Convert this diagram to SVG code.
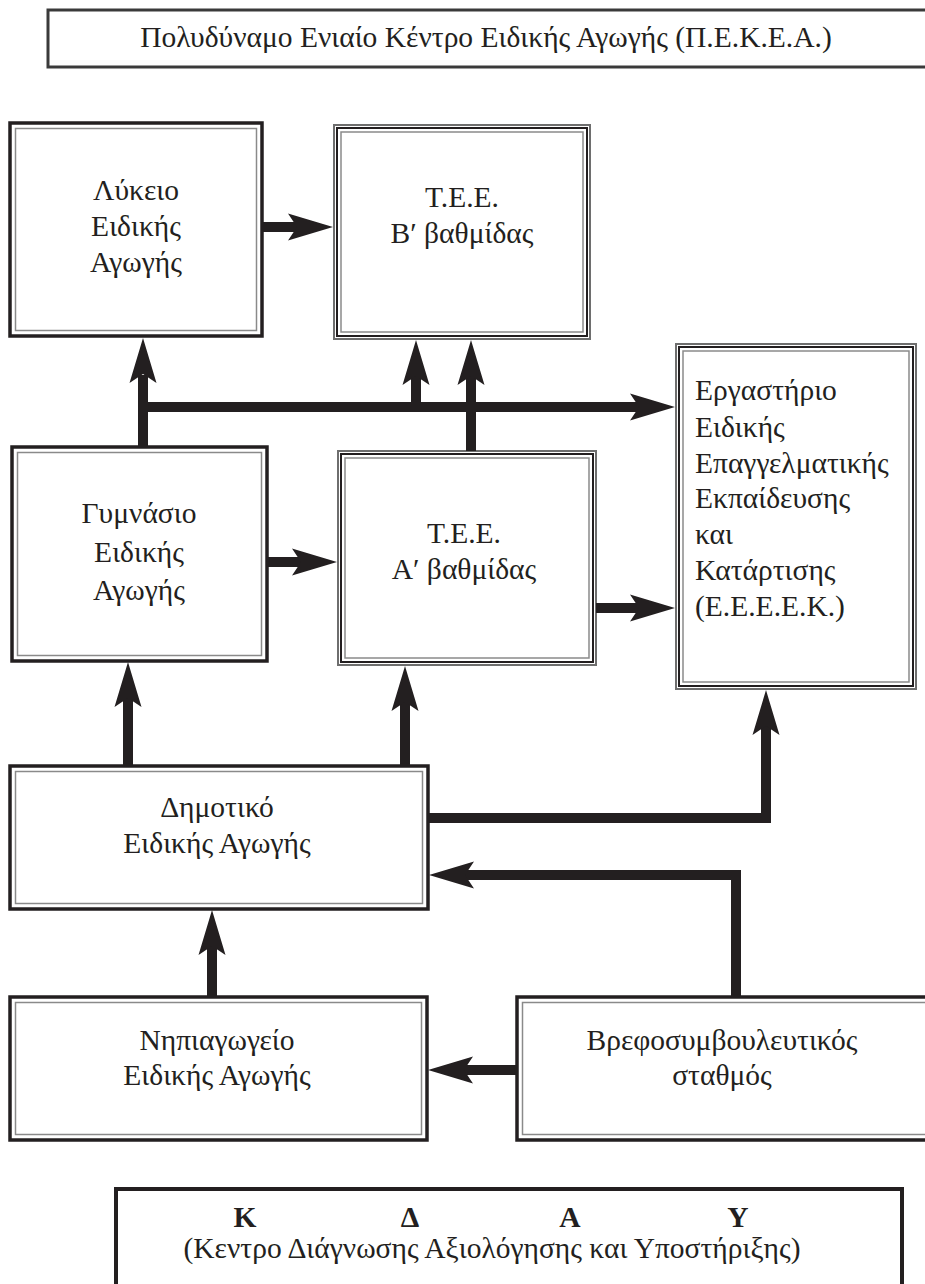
<svg xmlns="http://www.w3.org/2000/svg" xmlns:xlink="http://www.w3.org/1999/xlink" width="925" height="1284" viewBox="0 0 925 1284">
<style>
text{font-family:"Liberation Serif","DejaVu Serif",serif;fill:#231f20;font-size:29.5px}
.c{text-anchor:middle}
.b{font-weight:bold}
.oA{fill:#fff;stroke:#231f20;stroke-width:3.5}
.iA{fill:none;stroke:#8a8a8a;stroke-width:1.5}
.oB{fill:#fff;stroke:#6e6e6e;stroke-width:2}
.mB{fill:none;stroke:#231f20;stroke-width:2}
.iB{fill:none;stroke:#8a8a8a;stroke-width:1.5}
.ln{fill:none;stroke:#231f20;stroke-width:10;stroke-linejoin:miter}
.ah{fill:#231f20}
</style>
<defs>
<path id="ah" d="M0,0 L-45,-13.5 L-36,0 L-45,13.5 Z"/>
</defs>

<g id="pekea">
<rect x="48" y="10" width="930" height="57" fill="#fff" stroke="#3a3a3a" stroke-width="3"/>
<text class="c" x="486" y="47">Πολυδύναμο Ενιαίο Κέντρο Ειδικής Αγωγής (Π.Ε.Κ.Ε.Α.)</text>
</g>

<g id="lykeio">
<rect class="oA" x="10" y="123" width="252" height="213"/>
<rect class="iA" x="15.5" y="128.5" width="241" height="202"/>
<text class="c" x="136" y="200">Λύκειο</text>
<text class="c" x="136" y="236">Ειδικής</text>
<text class="c" x="136" y="272">Αγωγής</text>
</g>

<g id="tee-b">
<rect class="oB" x="334" y="125" width="256" height="214"/>
<rect class="mB" x="337" y="128" width="250" height="208"/>
<rect class="iB" x="341" y="132" width="242" height="200"/>
<text class="c" x="462" y="207">Τ.Ε.Ε.</text>
<text class="c" x="462" y="243">Β′ βαθμίδας</text>
</g>

<g id="eeeek">
<rect class="oB" x="676" y="344" width="240" height="345"/>
<rect class="mB" x="679" y="347" width="234" height="339"/>
<rect class="iB" x="683" y="351" width="226" height="331"/>
<text x="695" y="400">Εργαστήριο</text>
<text x="695" y="437">Ειδικής</text>
<text x="695" y="473">Επαγγελματικής</text>
<text x="695" y="508">Εκπαίδευσης</text>
<text x="695" y="544">και</text>
<text x="695" y="580">Κατάρτισης</text>
<text x="695" y="616">(Ε.Ε.Ε.Ε.Κ.)</text>
</g>

<g id="gymnasio">
<rect class="oA" x="12" y="447" width="255" height="214"/>
<rect class="iA" x="17.5" y="452.5" width="244" height="203"/>
<text class="c" x="139" y="523">Γυμνάσιο</text>
<text class="c" x="139" y="562">Ειδικής</text>
<text class="c" x="139" y="600">Αγωγής</text>
</g>

<g id="tee-a">
<rect class="oB" x="338" y="451" width="258" height="214"/>
<rect class="mB" x="341" y="454" width="252" height="208"/>
<rect class="iB" x="345" y="458" width="244" height="200"/>
<text class="c" x="464" y="543">Τ.Ε.Ε.</text>
<text class="c" x="464" y="579">Α′ βαθμίδας</text>
</g>

<g id="dimotiko">
<rect class="oA" x="10" y="766" width="418" height="143"/>
<rect class="iA" x="15.5" y="771.5" width="407" height="132"/>
<text class="c" x="217" y="817">Δημοτικό</text>
<text class="c" x="217" y="853">Ειδικής Αγωγής</text>
</g>

<g id="nipiagogeio">
<rect class="oA" x="10" y="997" width="417" height="143"/>
<rect class="iA" x="15.5" y="1002.5" width="406" height="132"/>
<text class="c" x="217" y="1050">Νηπιαγωγείο</text>
<text class="c" x="217" y="1085">Ειδικής Αγωγής</text>
</g>

<g id="vrefos">
<rect class="oA" x="517" y="997" width="440" height="143"/>
<rect class="iA" x="522.5" y="1002.5" width="429" height="132"/>
<text class="c" x="722" y="1050">Βρεφοσυμβουλευτικός</text>
<text class="c" x="722" y="1085">σταθμός</text>
</g>

<g id="kday">
<rect x="116" y="1189" width="786" height="120" fill="#fff" stroke="#231f20" stroke-width="4"/>
<text class="c b" x="245" y="1227">Κ</text>
<text class="c b" x="410" y="1227">Δ</text>
<text class="c b" x="570" y="1227">Α</text>
<text class="c b" x="738" y="1227">Υ</text>
<text class="c" x="492" y="1258">(Κεντρο Διάγνωσης Αξιολόγησης και Υποστήριξης)</text>
</g>

<g id="connectors">
<path class="ln" d="M262,227 H300"/>
<use class="ah" xlink:href="#ah" transform="translate(333,227)"/>
<path class="ln" d="M143,447 V375"/>
<use class="ah" xlink:href="#ah" transform="translate(143,338) rotate(-90)"/>
<path class="ln" d="M138,407 H640"/>
<use class="ah" xlink:href="#ah" transform="translate(675,407)"/>
<path class="ln" d="M416,412 V372"/>
<use class="ah" xlink:href="#ah" transform="translate(416,340) rotate(-90)"/>
<path class="ln" d="M471,451 V372"/>
<use class="ah" xlink:href="#ah" transform="translate(471,340) rotate(-90)"/>
<path class="ln" d="M267,562 H304"/>
<use class="ah" xlink:href="#ah" transform="translate(337,562)"/>
<path class="ln" d="M596,608 H640"/>
<use class="ah" xlink:href="#ah" transform="translate(675,608)"/>
<path class="ln" d="M128,766 V697"/>
<use class="ah" xlink:href="#ah" transform="translate(128,662) rotate(-90)"/>
<path class="ln" d="M405,766 V700"/>
<use class="ah" xlink:href="#ah" transform="translate(405,666) rotate(-90)"/>
<path class="ln" d="M428,818 H766 V724"/>
<use class="ah" xlink:href="#ah" transform="translate(766,690) rotate(-90)"/>
<path class="ln" d="M736,997 V875 H463"/>
<use class="ah" xlink:href="#ah" transform="translate(429,875) rotate(180)"/>
<path class="ln" d="M212,997 V944"/>
<use class="ah" xlink:href="#ah" transform="translate(212,910) rotate(-90)"/>
<path class="ln" d="M517,1070 H463"/>
<use class="ah" xlink:href="#ah" transform="translate(428,1070) rotate(180)"/>
</g>
</svg>
